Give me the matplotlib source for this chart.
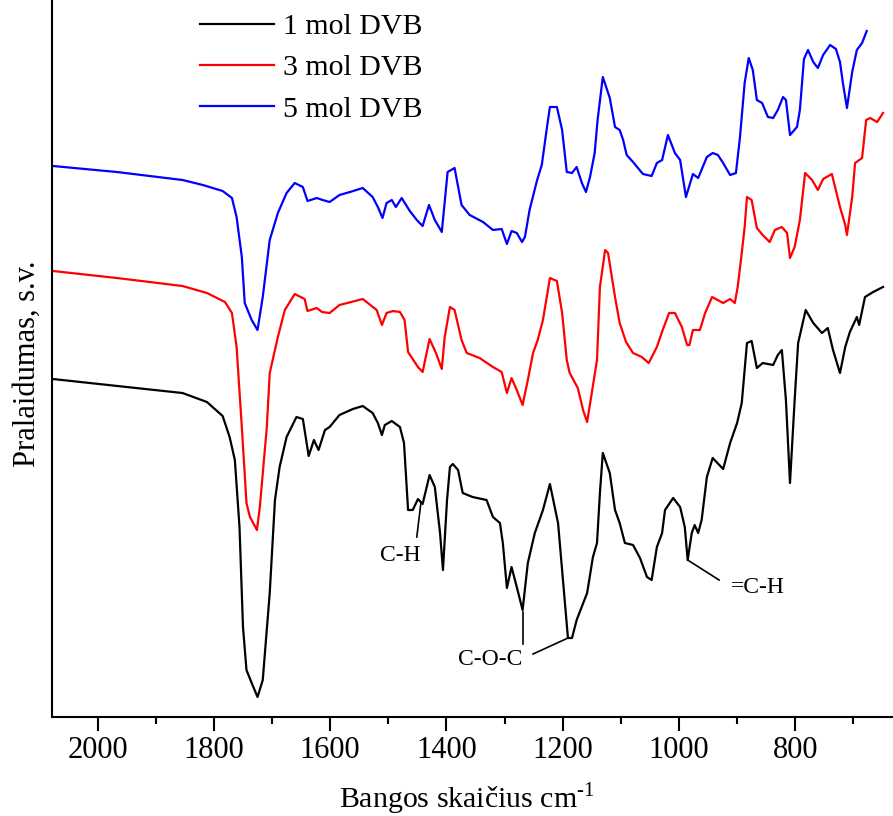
import matplotlib.pyplot as plt
from matplotlib.ticker import MultipleLocator, NullLocator

plt.rcParams['font.family'] = ['Liberation Serif', 'DejaVu Serif']
plt.rcParams['mathtext.fontset'] = 'custom'
plt.rcParams['mathtext.rm'] = 'Liberation Serif'

# FTIR spectra (wavenumber cm-1, transmittance a.u.)
wn_1 = [2077, 1950, 1854, 1812, 1785, 1773, 1764, 1756, 1750, 1744, 1735, 1725, 1716, 1704, 1695,
        1687, 1675, 1658, 1647, 1637, 1628, 1620, 1609, 1601, 1584, 1561, 1544, 1527, 1518, 1511,
        1506, 1494, 1480, 1473, 1466, 1458, 1449, 1441, 1429, 1420, 1411, 1406, 1399, 1394, 1389,
        1380, 1372, 1355, 1331, 1320, 1308, 1303, 1296, 1288, 1279, 1269, 1260, 1248, 1234, 1222,
        1208, 1200, 1191, 1184, 1176, 1158, 1148, 1141, 1136, 1131, 1119, 1110, 1102, 1093, 1079,
        1067, 1055, 1047, 1038, 1029, 1024, 1010, 998, 990, 985, 978, 973, 967, 961, 952,
        942, 924, 912, 900, 892, 883, 875, 866, 856, 838, 830, 823, 816, 809, 801,
        795, 782, 769, 754, 744, 735, 723, 714, 706, 694, 690, 680, 666, 649]
t_1 = [33.8, 33.0, 32.4, 31.5, 30.1, 28.0, 25.7, 19.0, 9.0, 4.7, 3.4, 2.0, 3.7, 12.4, 21.7,
       25.0, 28.0, 30.0, 29.8, 26.1, 27.7, 26.7, 28.7, 29.0, 30.2, 30.8, 31.1, 30.4, 29.4, 28.2,
       29.2, 29.6, 29.0, 27.4, 20.7, 20.7, 21.8, 21.3, 24.2, 23.0, 18.4, 14.7, 21.7, 25.0, 25.3,
       24.7, 22.4, 22.0, 21.7, 20.0, 19.4, 17.4, 12.9, 15.0, 13.0, 10.7, 15.4, 18.4, 20.7, 23.3,
       19.4, 14.0, 7.9, 7.9, 9.7, 12.4, 16.0, 17.4, 22.4, 26.4, 24.4, 20.7, 19.4, 17.4, 17.2,
       15.9, 14.0, 13.7, 17.0, 18.4, 20.7, 21.9, 21.0, 19.0, 15.7, 18.4, 19.2, 18.4, 19.7, 24.0,
       25.9, 24.8, 27.4, 29.4, 31.4, 37.4, 37.6, 34.9, 35.4, 35.2, 36.2, 36.7, 31.7, 23.4, 31.7,
       37.4, 40.7, 39.4, 38.4, 38.9, 36.7, 34.4, 37.0, 38.5, 40.0, 39.2, 42.0, 42.5, 43.0]

wn_3 = [2077, 1967, 1854, 1812, 1781, 1769, 1761, 1752, 1744, 1738, 1726, 1721, 1709, 1704, 1690,
        1678, 1661, 1644, 1639, 1623, 1614, 1601, 1584, 1544, 1520, 1511, 1503, 1492, 1480, 1472,
        1466, 1449, 1441, 1429, 1418, 1408, 1403, 1394, 1386, 1374, 1365, 1343, 1320, 1305, 1296,
        1288, 1279, 1269, 1260, 1251, 1243, 1234, 1222, 1210, 1201, 1193, 1188, 1174, 1165, 1158,
        1150, 1141, 1136, 1127, 1122, 1110, 1102, 1091, 1079, 1064, 1052, 1038, 1028, 1017, 1007,
        995, 986, 982, 976, 964, 955, 943, 924, 912, 904, 899, 892, 887, 883, 875,
        866, 856, 844, 835, 823, 814, 809, 801, 792, 783, 771, 761, 752, 737, 723,
        714, 711, 702, 697, 685, 678, 671, 659, 649]
t_3 = [44.6, 43.9, 43.1, 42.4, 41.5, 40.4, 37.0, 29.0, 21.4, 20.0, 18.7, 21.0, 29.0, 34.4, 38.0,
       40.7, 42.3, 41.8, 40.6, 40.9, 40.5, 40.4, 41.2, 41.8, 40.7, 39.2, 40.4, 40.6, 40.5, 39.7,
       36.5, 35.0, 34.5, 37.8, 36.4, 34.8, 38.0, 41.0, 40.7, 37.7, 36.4, 35.9, 35.0, 34.5, 32.4,
       33.9, 32.7, 31.2, 33.7, 36.4, 37.7, 39.7, 43.9, 43.6, 40.4, 35.7, 34.4, 32.9, 30.7, 29.5,
       32.4, 35.7, 43.0, 46.7, 46.4, 42.0, 39.4, 37.5, 36.4, 36.0, 35.4, 37.0, 38.7, 40.4, 40.4,
       39.0, 37.2, 37.2, 38.7, 38.7, 40.4, 42.0, 41.4, 41.8, 41.4, 43.0, 46.4, 49.0, 52.0, 51.7,
       48.9, 48.2, 47.5, 48.7, 49.0, 48.4, 45.9, 47.0, 49.7, 54.4, 53.7, 52.7, 53.8, 54.3, 51.0,
       49.2, 48.2, 52.0, 55.4, 55.9, 59.7, 59.9, 59.5, 60.4]

wn_5 = [2077, 1967, 1854, 1819, 1785, 1769, 1761, 1752, 1747, 1735, 1725, 1716, 1704, 1690, 1675,
        1661, 1647, 1639, 1623, 1613, 1601, 1584, 1566, 1544, 1527, 1518, 1510, 1503, 1494, 1487,
        1477, 1463, 1451, 1441, 1430, 1420, 1408, 1398, 1386, 1374, 1360, 1337, 1320, 1305, 1296,
        1288, 1279, 1270, 1265, 1257, 1244, 1236, 1227, 1222, 1210, 1201, 1193, 1184, 1176, 1167,
        1160, 1153, 1145, 1140, 1131, 1119, 1110, 1102, 1096, 1090, 1079, 1062, 1047, 1038, 1029,
        1019, 1007, 998, 988, 976, 967, 952, 942, 933, 924, 912, 902, 895, 887, 880,
        873, 866, 857, 847, 838, 830, 821, 816, 809, 797, 792, 785, 778, 769, 761,
        752, 740, 730, 723, 718, 711, 702, 694, 685, 677]
t_5 = [55.1, 54.5, 53.7, 53.2, 52.6, 51.9, 50.0, 46.0, 41.4, 39.7, 38.7, 42.0, 47.7, 50.4, 52.4,
       53.4, 53.0, 51.6, 51.9, 51.7, 51.5, 52.2, 52.5, 52.9, 52.0, 51.0, 49.9, 51.4, 51.7, 51.0,
       51.9, 50.6, 49.7, 49.1, 51.2, 49.7, 48.5, 54.5, 54.9, 51.2, 50.2, 49.5, 48.7, 48.8, 47.3,
       48.6, 48.4, 47.5, 48.0, 50.7, 53.7, 55.2, 59.0, 61.0, 61.0, 58.7, 54.5, 54.4, 55.0, 53.4,
       52.5, 54.0, 56.4, 59.7, 64.0, 61.9, 59.0, 58.7, 57.7, 56.2, 55.5, 54.3, 54.1, 55.4, 55.7,
       58.2, 56.4, 55.7, 52.0, 54.3, 53.9, 56.0, 56.4, 56.2, 55.4, 54.2, 54.4, 58.0, 63.4, 65.9,
       64.7, 61.7, 61.4, 60.0, 59.9, 60.7, 62.0, 61.7, 58.2, 59.0, 60.7, 65.8, 66.7, 65.5, 64.9,
       66.2, 67.2, 66.8, 65.5, 63.4, 60.9, 64.5, 66.7, 67.4, 68.6]

labels = ['1 mol DVB', '3 mol DVB', '5 mol DVB']
colors = ['black', 'red', 'blue']

fig = plt.figure(figsize=(8.93, 8.16), dpi=100)
ax = fig.add_axes([0.0582, 0.1213, 0.9418, 0.8787])

for wn, t, lab, c in zip([wn_1, wn_3, wn_5], [t_1, t_3, t_5], labels, colors):
    ax.plot(wn, t, color=c, lw=1.6, label=lab)

ax.set_xlim(2078.6, 631.8)
ax.set_ylim(0, 71.7)

# band labels
ax.plot([1444, 1451], [21.4, 18.0], color='black', lw=1.2)
ax.text(1480, 16.2, 'C-H', fontsize=17, ha='center', va='center')
ax.plot([1269, 1269], [10.5, 7.3], color='black', lw=1.2)
ax.plot([1251, 1191], [6.3, 7.9], color='black', lw=1.2)
ax.text(1325, 5.8, 'C-O-C', fontsize=17, ha='center', va='center')
ax.plot([985, 931], [15.7, 13.7], color='black', lw=1.2)
ax.text(911, 13.0, '=C-H', fontsize=17, ha='left', va='center')

ax.spines['top'].set_visible(False)
ax.spines['right'].set_visible(False)
ax.spines['left'].set_linewidth(1.5)
ax.spines['bottom'].set_linewidth(1.5)

ax.xaxis.set_major_locator(MultipleLocator(200))
ax.xaxis.set_minor_locator(MultipleLocator(100))
ax.yaxis.set_major_locator(NullLocator())
ax.tick_params(axis='x', which='major', direction='out', length=10, width=1.5,
               labelsize=22, pad=4)
ax.tick_params(axis='x', which='minor', direction='out', length=5, width=1.5)

ax.set_xlabel('Bangos skaičius cm$^{\\text{-1}}$', fontsize=21.5)
ax.xaxis.set_label_coords(0.4935, -0.088)
ax.xaxis.label.set_va('top')
ax.set_ylabel('Pralaidumas, s.v.', fontsize=22)
ax.yaxis.set_label_coords(-0.012, 0.492)

ax.legend(loc='upper left', bbox_to_anchor=(0.217, 0.991), bbox_transform=fig.transFigure,
          frameon=False, fontsize=21.5, handlelength=2.5, handletextpad=0.3,
          labelspacing=0.48, borderaxespad=0, borderpad=0.2)

fig.savefig('out.png', dpi=100)
